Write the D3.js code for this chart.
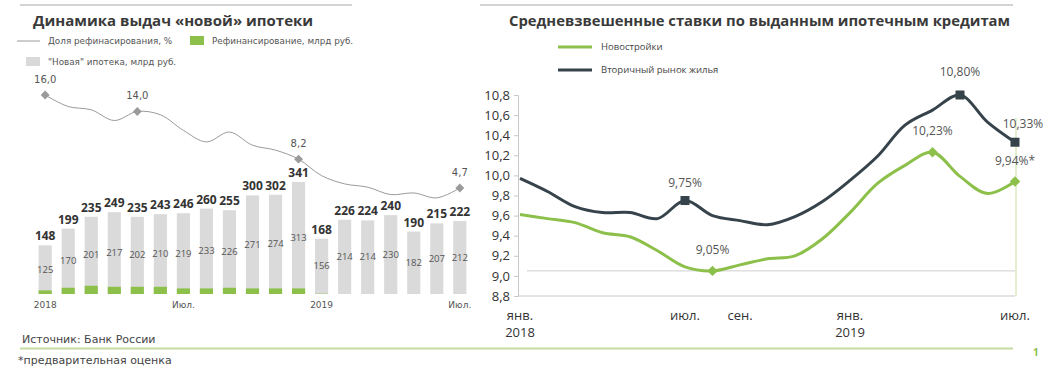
<!DOCTYPE html>
<html><head><meta charset="utf-8">
<script src="https://cdn.jsdelivr.net/npm/d3@7"></script>
<style>
body{margin:0;background:#fff;}
svg{display:block;}
</style></head>
<body>
<svg id="c" width="1057" height="372"></svg>
<script>
// ---------- DATA ----------
const months = ["01.2018","02.2018","03.2018","04.2018","05.2018","06.2018","07.2018","08.2018","09.2018","10.2018","11.2018","12.2018","01.2019","02.2019","03.2019","04.2019","05.2019","06.2019","07.2019"];
const totalIssued = [148,199,235,249,235,243,246,260,255,300,302,341,168,226,224,240,190,215,222];
const newMortgage = [125,170,201,217,202,210,219,233,226,271,274,313,156,214,214,230,182,207,212];
const refinancing = [11,19,25,22,22,22,17,17,19,17,17,17,1,0,0,0,0,0,0];
const refiShare = [16.0,14.6,14.2,12.9,14.0,13.6,11.7,10.3,11.5,9.9,9.3,8.2,6.2,5.2,4.8,3.9,4.1,3.5,4.7];
const shareLabelIdx = [0,4,11,18];
const leftTickIdx = [0,6,12,18];
const leftTickLabels = ["2018","Июл.","2019","Июл."];

const newBuild = [9.61,9.57,9.53,9.43,9.39,9.25,9.09,9.05,9.11,9.17,9.20,9.37,9.63,9.92,10.10,10.23,9.99,9.82,9.94];
const secondary = [9.97,9.84,9.69,9.63,9.63,9.57,9.75,9.60,9.55,9.51,9.59,9.74,9.95,10.19,10.50,10.65,10.80,10.53,10.33];
const newBuildMarks = [{i:7,t:"9,05%"},{i:15,t:"10,23%"},{i:18,t:"9,94%*"}];
const secondaryMarks = [{i:6,t:"9,75%"},{i:16,t:"10,80%"},{i:18,t:"10,33%"}];
const rateTicks = [8.8,9.0,9.2,9.4,9.6,9.8,10.0,10.2,10.4,10.6,10.8];
const rateXTickIdx = [0,6,8,12,18];
const rateXTickLabels = [["янв.","2018"],["июл."],["сен."],["янв.","2019"],["июл."]];

// ---------- DRAW ----------
const svg = d3.select("#c");
const SANS = "'DejaVu Sans', Verdana, sans-serif";
const OPEN = "'Open Sans', sans-serif";
const green = "#8cc04a", dark = "#36434b", gray = "#9a9a9a";

// separators
svg.append("line").attr("x1",20).attr("x2",352).attr("y1",5).attr("y2",5).attr("stroke","#d4d4d4").attr("stroke-width",2);
svg.append("line").attr("x1",480).attr("x2",1013).attr("y1",5).attr("y2",5).attr("stroke","#d4d4d4").attr("stroke-width",2);

// titles
svg.append("text").attr("x",33).attr("y",26).text("Динамика выдач «новой» ипотеки")
  .attr("font-family",OPEN).attr("font-weight","bold").attr("font-size",15).attr("fill","#3a3a3a");
svg.append("text").attr("x",509).attr("y",26).text("Средневзвешенные ставки по выданным ипотечным кредитам")
  .attr("font-family",OPEN).attr("font-weight","bold").attr("font-size",14.8).attr("fill","#3a3a3a");

// ----- LEFT CHART -----
const xb = d3.scaleBand().domain(months).range([34,471]).paddingInner(0.43).paddingOuter(0.2);
const yb = d3.scaleLinear().domain([0,350]).range([294,179]);
const ys = d3.scaleLinear().domain([4.7,16]).range([188,95]);
const cx = i => xb(months[i]) + xb.bandwidth()/2;

// legend
const lg = svg.append("g").attr("font-family",SANS).attr("font-size",8.8).attr("fill","#555");
lg.append("line").attr("x1",17).attr("x2",40).attr("y1",41).attr("y2",41).attr("stroke",gray);
lg.append("text").attr("x",48).attr("y",44).text("Доля рефинасирования, %");
lg.append("rect").attr("x",190).attr("y",36).attr("width",14).attr("height",9).attr("fill",green);
lg.append("text").attr("x",212).attr("y",44).text("Рефинансирование, млрд руб.");
lg.append("rect").attr("x",26).attr("y",57).attr("width",14).attr("height",9).attr("fill","#d9d9d9");
lg.append("text").attr("x",48).attr("y",65).text("\"Новая\" ипотека, млрд руб.");

// bars
const bars = svg.append("g");
bars.selectAll("rect.tot").data(totalIssued).join("rect")
  .attr("x",(d,i)=>xb(months[i])).attr("width",xb.bandwidth())
  .attr("y",d=>yb(d)).attr("height",d=>yb(0)-yb(d)).attr("fill","#dadada");
bars.selectAll("rect.ref").data(refinancing).join("rect").attr("class","ref")
  .attr("x",(d,i)=>xb(months[i])).attr("width",xb.bandwidth())
  .attr("y",d=>yb(d)).attr("height",d=>yb(0)-yb(d)).attr("fill",green);
bars.selectAll("text.tot").data(totalIssued).join("text").attr("class","tot")
  .attr("x",(d,i)=>cx(i)).attr("y",d=>yb(d)-5).attr("text-anchor","middle")
  .attr("font-family",OPEN).attr("font-weight","bold").attr("font-size",12).attr("fill","#333").text(d=>d);
bars.selectAll("text.new").data(newMortgage).join("text").attr("class","new")
  .attr("x",(d,i)=>cx(i)).attr("y",(d,i)=>(yb(totalIssued[i])+yb(0))/2+3).attr("text-anchor","middle")
  .attr("font-family",OPEN).attr("font-size",9.5).attr("fill","#555").text(d=>d);

// x labels
svg.append("g").selectAll("text").data(leftTickIdx).join("text")
  .attr("x",d=>cx(d)).attr("y",308).attr("text-anchor","middle")
  .attr("font-family",SANS).attr("font-size",9).attr("fill","#555").text((d,k)=>leftTickLabels[k]);

// share line
svg.append("path").datum(refiShare)
  .attr("d",d3.line().x((d,i)=>cx(i)).y(d=>ys(d)).curve(d3.curveCatmullRom.alpha(0.5)))
  .attr("fill","none").attr("stroke",gray).attr("stroke-width",1);
const sm = svg.append("g");
sm.selectAll("path").data(shareLabelIdx).join("path")
  .attr("d",d3.symbol(d3.symbolDiamond2,50)())
  .attr("transform",d=>`translate(${cx(d)},${ys(refiShare[d])})`).attr("fill",gray);
sm.selectAll("text").data(shareLabelIdx).join("text")
  .attr("x",d=>cx(d)).attr("y",d=>ys(refiShare[d])-12).attr("text-anchor","middle")
  .attr("font-family",SANS).attr("font-size",10).attr("fill","#555")
  .text(d=>d3.format(".1f")(refiShare[d]).replace(".",","));

// ----- RIGHT CHART -----
const xr = d3.scaleLinear().domain([0,18]).range([520,1015]);
const yr = d3.scaleLinear().domain([8.8,10.8]).range([296,95]);

// legend
const rl = svg.append("g").attr("font-family",OPEN).attr("font-size",9.5).attr("fill","#444");
rl.append("line").attr("x1",558).attr("x2",592).attr("y1",47).attr("y2",47).attr("stroke",green).attr("stroke-width",3);
rl.append("text").attr("x",601).attr("y",50).text("Новостройки");
rl.append("line").attr("x1",558).attr("x2",592).attr("y1",70).attr("y2",70).attr("stroke",dark).attr("stroke-width",3);
rl.append("text").attr("x",601).attr("y",73).text("Вторичный рынок жилья");

// axes
const yAxis = d3.axisLeft(yr).tickValues(rateTicks).tickSize(4).tickPadding(4)
  .tickFormat(d=>d3.format(".1f")(d).replace(".",","));
const ya = svg.append("g").attr("transform","translate(518,0)").call(yAxis);
ya.select(".domain").attr("stroke","#c8c8c8");
ya.selectAll(".tick line").attr("stroke","#c8c8c8");
ya.selectAll("text").attr("font-family",OPEN).attr("font-size",13).attr("fill","#333");

svg.append("line").attr("x1",518).attr("x2",1015).attr("y1",yr(8.8)).attr("y2",yr(8.8)).attr("stroke","#c8c8c8");
// reference lines
svg.append("line").attr("x1",527).attr("x2",1015).attr("y1",yr(newBuild[7])).attr("y2",yr(newBuild[7])).attr("stroke","#cfcfcf");
svg.append("line").attr("x1",xr(18)+1).attr("x2",xr(18)+1).attr("y1",118).attr("y2",yr(8.8)).attr("stroke","#c9dfa5");

const xl = svg.append("g").attr("font-family",OPEN).attr("font-size",13).attr("fill","#333");
rateXTickIdx.forEach((d,k)=>{
  rateXTickLabels[k].forEach((t,j)=>{
    xl.append("text").attr("x",xr(d)).attr("y",320+j*17).attr("text-anchor","middle").text(t);
  });
});

const lineR = d3.line().x((d,i)=>xr(i)).y(d=>yr(d)).curve(d3.curveCatmullRom.alpha(0.5));
svg.append("path").datum(newBuild).attr("d",lineR).attr("fill","none").attr("stroke",green).attr("stroke-width",3);
svg.append("path").datum(secondary).attr("d",lineR).attr("fill","none").attr("stroke",dark).attr("stroke-width",3);

const mk = svg.append("g");
mk.selectAll("rect").data(secondaryMarks).join("rect")
  .attr("x",d=>xr(d.i)-4.5).attr("y",d=>yr(secondary[d.i])-4.5).attr("width",9).attr("height",9).attr("fill",dark);
mk.selectAll("path").data(newBuildMarks).join("path")
  .attr("d",d3.symbol(d3.symbolDiamond2,70)())
  .attr("transform",d=>`translate(${xr(d.i)},${yr(newBuild[d.i])})`).attr("fill",green);

const lblOff = {6:[0,-13.5],16:[0,-19],18:[8,-14]};
mk.selectAll("text.s").data(secondaryMarks).join("text").attr("class","s")
  .attr("x",d=>xr(d.i)+lblOff[d.i][0]).attr("y",d=>yr(secondary[d.i])+lblOff[d.i][1])
  .attr("text-anchor","middle").attr("font-family",OPEN).attr("font-size",12).attr("fill","#555").text(d=>d.t);
const lblOffN = {7:[0,-17],15:[0,-17],18:[0,-16]};
mk.selectAll("text.n").data(newBuildMarks).join("text").attr("class","n")
  .attr("x",d=>xr(d.i)+lblOffN[d.i][0]).attr("y",d=>yr(newBuild[d.i])+lblOffN[d.i][1])
  .attr("text-anchor","middle").attr("font-family",OPEN).attr("font-size",12).attr("fill","#555").text(d=>d.t);

// ----- FOOTER -----
svg.append("text").attr("x",22).attr("y",343).text("Источник: Банк России")
  .attr("font-family",SANS).attr("font-size",11).attr("fill","#444");
svg.append("line").attr("x1",20).attr("x2",1013).attr("y1",348.5).attr("y2",348.5).attr("stroke","#c5dc9f").attr("stroke-width",2);
svg.append("text").attr("x",18).attr("y",364).text("*предварительная оценка")
  .attr("font-family",SANS).attr("font-size",11).attr("fill","#444");
svg.append("text").attr("x",1033).attr("y",356).text("1")
  .attr("font-family",OPEN).attr("font-weight","bold").attr("font-size",10).attr("fill","#8cc04a");
</script>
</body></html>
